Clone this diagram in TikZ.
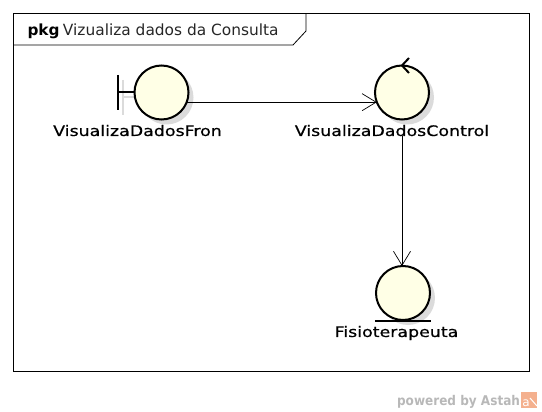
\documentclass[tikz,border=0pt]{standalone}
\usepackage{fontspec}
\setmainfont{DejaVu Sans}
\newfontfamily\labelfont[FakeStretch=1.2,FakeBold=0.5]{DejaVu Sans}
\newfontfamily\footfont[FakeStretch=0.9]{DejaVu Sans Bold}
\usepackage{xcolor}
\usetikzlibrary{arrows.meta,shadows,calc}
\definecolor{robust}{HTML}{FFFFE6}
\definecolor{astah}{HTML}{F4B08E}

\begin{document}
\begin{tikzpicture}
	[
		x = 1pt, y = -1pt,
		every node/.style = {inner sep=0pt, outer sep=0pt},
		robustness/.style = {shape=circle, draw, line width=2pt, minimum size=54pt, fill=robust,
			drop shadow={shadow xshift=5pt, shadow yshift=-5pt, fill=black!14, opacity=1}},
		caption/.style = {font=\labelfont\fontsize{14.5pt}{17pt}\selectfont, text=black, anchor=base},
		assoc/.style = {draw, line width=0.7pt, -{Straight Barb[length=14pt,width=17pt,line width=0.7pt]}},
		stroke/.style = {line width=2pt},
	]
  \useasboundingbox (0,0) rectangle (542,412);

  % frame and tab
  \node[draw, line width=0.8pt, minimum width=516pt, minimum height=358pt] (frame) at (271.5,192.5) {};
  \coordinate (tabR) at (306,13.5);
  \coordinate (tabS) at (293,45);
  \coordinate (tabM) at (306,31);
  \coordinate (tabL) at (13.5,45);
  \draw[line width=0.8pt] (tabR) -- (tabM) -- (tabS) -- (tabL);
  \node[anchor=base west, font=\fontsize{15.3pt}{18pt}\selectfont\bfseries] (pkg) at (27.5,36) {pkg};
  \node[anchor=base west, font=\fontsize{15.4pt}{18pt}\selectfont, text=black!85] (title) at (63,36) {Vizualiza dados da Consulta};

  % boundary
  \draw[black!14, line width=2pt] (122.5,80) -- (122.5,115);
  \draw[black!14, line width=2pt] (122.5,97) -- (140,97);
  \node[robustness] (front) at (161.5,92.5) {};
  \coordinate (barT) at (117.5,75);
  \coordinate (barB) at (117.5,110);
  \coordinate (barM) at (117.5,92.5);
  \draw[stroke] (barT) -- (barB);
  \draw[stroke] (barM) -- (front.west);
  \node[caption] (frontLabel) at (137.5,136) {VisualizaDadosFron};

  % control
  \node[robustness] (control) at (402,92.5) {};
  \coordinate (tipA) at (409,58);
  \coordinate (tipB) at (409,73);
  \draw[stroke] (tipA) -- (control.north) -- (tipB);
  \node[caption] (controlLabel) at (392,136) {VisualizaDadosControl};

  % entity
  \node[robustness] (fisio) at (403,293) {};
  \coordinate (underL) at (375,321);
  \coordinate (underR) at (431,321);
  \draw[stroke] (underL) -- (underR);
  \node[caption] (fisioLabel) at (396.5,337) {Fisioterapeuta};

  \path[assoc] (front.-21) -- (control.201);
  \path[assoc] (controlLabel.south -| control) -- (fisio.north -| control);

  % footer
  \node[anchor=base east, font=\footfont\fontsize{13.4pt}{15pt}\selectfont, text=black!28] (powered) at (520,405) {powered by Astah};
  \node[fill=astah, minimum size=16pt, anchor=north west] (logo) at (521,392) {};
  \node[font=\fontsize{12pt}{12pt}\selectfont, text=white, anchor=base] (logoText) at (526,406) {a};
  \coordinate (slashA) at (530,398);
  \coordinate (slashB) at (537,406);
  \draw[white, line width=1pt] (slashA) -- (slashB);
\end{tikzpicture}
\end{document}
